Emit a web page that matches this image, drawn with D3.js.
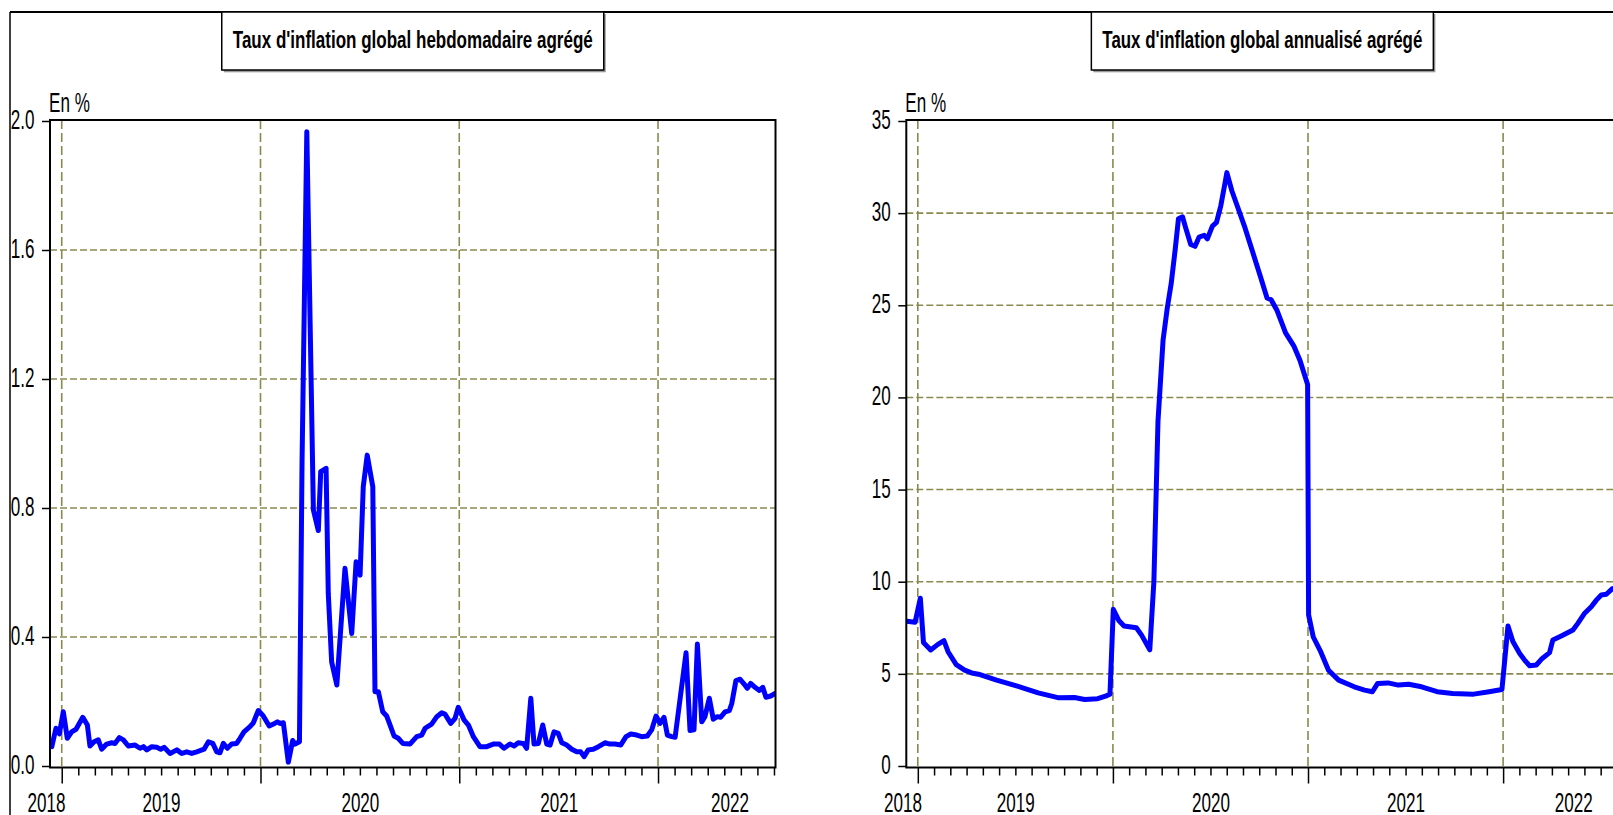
<!DOCTYPE html>
<html><head><meta charset="utf-8">
<script src="https://cdn.jsdelivr.net/npm/d3@7"></script>
<style>html,body{margin:0;padding:0;background:#fff;} svg{display:block;}</style>
</head><body><svg id="chart" width="1613" height="815"></svg>
<script>
// ---------- data ----------
const leftTitle = "Taux d'inflation global hebdomadaire agrégé";
const rightTitle = "Taux d'inflation global annualisé agrégé";
const unitLabel = "En %";
const yearLabels = ["2018", "2019", "2020", "2021", "2022"];
const yearLabelPos = [2018.921, 2019.5, 2020.5, 2021.5, 2022.36];
const majorYears = [2019, 2020, 2021, 2022];
const leftTicks = [0, 0.4, 0.8, 1.2, 1.6, 2.0];
const rightTicks = [0, 5, 10, 15, 20, 25, 30, 35];
const timeDomain = [2018.941, 2022.591];

// weekly inflation (decimal year, %)
const weeklyDates = [
  2018.950, 2018.971, 2018.988, 2019.008, 2019.028, 2019.050, 2019.072, 2019.106, 2019.129, 2019.142,
  2019.163, 2019.184, 2019.201, 2019.226, 2019.252, 2019.268, 2019.290, 2019.310, 2019.335, 2019.369,
  2019.394, 2019.411, 2019.428, 2019.453, 2019.478, 2019.498, 2019.515, 2019.545, 2019.579, 2019.604,
  2019.629, 2019.654, 2019.679, 2019.716, 2019.738, 2019.760, 2019.780, 2019.796, 2019.813, 2019.833,
  2019.855, 2019.880, 2019.897, 2019.917, 2019.947, 2019.964, 2019.989, 2020.014, 2020.044, 2020.065,
  2020.085, 2020.098, 2020.115, 2020.140, 2020.162, 2020.174, 2020.196, 2020.209, 2020.233, 2020.266,
  2020.291, 2020.303, 2020.330, 2020.341, 2020.358, 2020.384, 2020.425, 2020.459, 2020.481, 2020.501,
  2020.517, 2020.537, 2020.565, 2020.576, 2020.593, 2020.615, 2020.635, 2020.652, 2020.672, 2020.693,
  2020.716, 2020.752, 2020.786, 2020.811, 2020.828, 2020.861, 2020.887, 2020.912, 2020.928, 2020.957,
  2020.979, 2020.995, 2021.024, 2021.046, 2021.071, 2021.104, 2021.138, 2021.171, 2021.202, 2021.225,
  2021.255, 2021.276, 2021.297, 2021.322, 2021.339, 2021.360, 2021.376, 2021.398, 2021.420, 2021.440,
  2021.457, 2021.477, 2021.498, 2021.516, 2021.541, 2021.566, 2021.591, 2021.611, 2021.628, 2021.649,
  2021.674, 2021.700, 2021.733, 2021.758, 2021.784, 2021.812, 2021.839, 2021.863, 2021.893, 2021.918,
  2021.946, 2021.968, 2021.990, 2022.010, 2022.030, 2022.047, 2022.069, 2022.086, 2022.141, 2022.161,
  2022.181, 2022.198, 2022.220, 2022.236, 2022.258, 2022.278, 2022.298, 2022.315, 2022.337, 2022.359,
  2022.371, 2022.392, 2022.413, 2022.433, 2022.449, 2022.466, 2022.488, 2022.510, 2022.527, 2022.543,
  2022.567, 2022.589
];
const weeklyValues = [
  0.060, 0.117, 0.100, 0.168, 0.086, 0.106, 0.114, 0.151, 0.127, 0.062,
  0.075, 0.081, 0.052, 0.068, 0.072, 0.070, 0.088, 0.081, 0.062, 0.065,
  0.055, 0.060, 0.050, 0.060, 0.058, 0.052, 0.058, 0.039, 0.050, 0.039,
  0.044, 0.039, 0.044, 0.052, 0.075, 0.070, 0.044, 0.041, 0.070, 0.055,
  0.068, 0.070, 0.086, 0.106, 0.122, 0.134, 0.172, 0.155, 0.124, 0.130,
  0.137, 0.132, 0.134, 0.012, 0.079, 0.068, 0.075, 0.940, 1.967, 0.794,
  0.730, 0.913, 0.923, 0.535, 0.323, 0.251, 0.613, 0.411, 0.633, 0.592,
  0.866, 0.964, 0.866, 0.230, 0.230, 0.168, 0.155, 0.127, 0.093, 0.086,
  0.070, 0.068, 0.091, 0.096, 0.117, 0.130, 0.153, 0.165, 0.161, 0.132,
  0.148, 0.182, 0.143, 0.127, 0.091, 0.060, 0.060, 0.068, 0.068, 0.055,
  0.068, 0.062, 0.072, 0.070, 0.055, 0.210, 0.068, 0.070, 0.127, 0.068,
  0.065, 0.106, 0.101, 0.072, 0.065, 0.052, 0.044, 0.044, 0.029, 0.050,
  0.052, 0.060, 0.072, 0.068, 0.068, 0.065, 0.091, 0.099, 0.096, 0.091,
  0.093, 0.112, 0.155, 0.132, 0.151, 0.096, 0.091, 0.089, 0.351, 0.110,
  0.112, 0.378, 0.137, 0.153, 0.210, 0.145, 0.153, 0.151, 0.168, 0.172,
  0.194, 0.265, 0.269, 0.254, 0.241, 0.256, 0.244, 0.234, 0.244, 0.213,
  0.217, 0.225
];

// annualised inflation (decimal year, %)
const annualDates = [
  2018.944, 2018.986, 2019.013, 2019.029, 2019.066, 2019.103, 2019.134, 2019.155, 2019.197, 2019.240,
  2019.276, 2019.311, 2019.404, 2019.510, 2019.617, 2019.723, 2019.803, 2019.855, 2019.922, 2019.962,
  2019.985, 2020.002, 2020.030, 2020.057, 2020.120, 2020.147, 2020.189, 2020.210, 2020.231, 2020.257,
  2020.278, 2020.299, 2020.320, 2020.336, 2020.357, 2020.373, 2020.399, 2020.421, 2020.442, 2020.468,
  2020.484, 2020.510, 2020.531, 2020.553, 2020.574, 2020.584, 2020.610, 2020.637, 2020.674, 2020.716,
  2020.758, 2020.790, 2020.811, 2020.842, 2020.885, 2020.927, 2020.959, 2020.980, 2020.998, 2021.003,
  2021.027, 2021.065, 2021.105, 2021.157, 2021.237, 2021.290, 2021.330, 2021.357, 2021.410, 2021.463,
  2021.516, 2021.582, 2021.662, 2021.741, 2021.849, 2021.928, 2021.994, 2022.025, 2022.050, 2022.085,
  2022.110, 2022.136, 2022.170, 2022.196, 2022.238, 2022.255, 2022.298, 2022.358, 2022.383, 2022.418,
  2022.452, 2022.478, 2022.503, 2022.529, 2022.560, 2022.590
];
const annualValues = [
  7.85, 7.8, 9.1, 6.7, 6.3, 6.6, 6.8, 6.2, 5.5, 5.2,
  5.05, 4.98, 4.66, 4.33, 3.97, 3.70, 3.72, 3.61, 3.65, 3.79,
  3.90, 8.5, 7.9, 7.6, 7.5, 7.1, 6.3, 10.0, 18.7, 23.1,
  24.8, 26.2, 28.1, 29.7, 29.8, 29.2, 28.3, 28.2, 28.7, 28.8,
  28.6, 29.3, 29.5, 30.4, 31.6, 32.2, 31.2, 30.4, 29.3, 27.9,
  26.5, 25.4, 25.3, 24.7, 23.5, 22.8, 22.0, 21.3, 20.7, 8.2,
  7.0, 6.2, 5.2, 4.66, 4.30, 4.12, 4.03, 4.48, 4.51, 4.39,
  4.44, 4.30, 4.03, 3.94, 3.90, 4.03, 4.15, 7.6, 6.75, 6.1,
  5.75, 5.44, 5.48, 5.79, 6.15, 6.84, 7.05, 7.38, 7.74, 8.29,
  8.64, 9.0, 9.28, 9.32, 9.62, 9.7
];

// ---------- drawing ----------
const W = 1613, H = 815;
const FONT = "'Liberation Sans', Arial, sans-serif";
const SX = 0.61;          // horizontal compression of the labels
const GRID = "#8a8a4e";
const svg = d3.select("#chart");
svg.append("rect").attr("width", W).attr("height", H).attr("fill", "#fff");

// outer frame
svg.append("line").attr("x1", 10).attr("x2", W).attr("y1", 12).attr("y2", 12)
  .attr("stroke", "#000").attr("stroke-width", 2.2);
svg.append("line").attr("x1", 10).attr("x2", 10).attr("y1", 12).attr("y2", H)
  .attr("stroke", "#000").attr("stroke-width", 1.5);

const months = [];
majorYears.forEach(yr => { for (let m = 1; m < 12; m++) months.push(yr + m / 12); });

function drawPanel(cfg) {
  const top = 120, bottom = 767.5;
  const x = d3.scaleLinear().domain(timeDomain).range([cfg.left, cfg.right]);
  const y = d3.scaleLinear().domain([0, cfg.ymax]).range([766, 121]);
  const g = svg.append("g");
  const clipId = "clip" + cfg.id;
  g.append("clipPath").attr("id", clipId).append("rect")
    .attr("x", cfg.left).attr("y", top).attr("width", cfg.right - cfg.left).attr("height", bottom - top);

  // gridlines
  g.append("g").selectAll("line").data(cfg.ticks.filter(d => d > 0 && d < cfg.ymax)).join("line")
    .attr("x1", cfg.left).attr("x2", cfg.right).attr("y1", d => y(d)).attr("y2", d => y(d))
    .attr("stroke", GRID).attr("stroke-width", 1.6).attr("stroke-dasharray", "7,3");
  g.append("g").selectAll("line").data(majorYears).join("line")
    .attr("x1", d => x(d)).attr("x2", d => x(d)).attr("y1", top).attr("y2", bottom)
    .attr("stroke", GRID).attr("stroke-width", 1.6).attr("stroke-dasharray", "9,4");

  // series
  const pts = cfg.dates.map((t, i) => ({ t, v: cfg.values[i] }));
  g.append("path").datum(pts)
    .attr("clip-path", `url(#${clipId})`)
    .attr("fill", "none").attr("stroke", "#0000ff").attr("stroke-width", 5)
    .attr("stroke-linejoin", "round").attr("stroke-linecap", "round")
    .attr("d", d3.line().x(d => x(d.t)).y(d => y(d.v)));

  // frame
  g.append("rect").attr("x", cfg.left).attr("y", top).attr("width", cfg.right - cfg.left)
    .attr("height", bottom - top).attr("fill", "none").attr("stroke", "#000").attr("stroke-width", 2);

  // y axis
  const yg = g.append("g").attr("transform", `translate(${cfg.left},0)`)
    .call(d3.axisLeft(y).tickValues(cfg.ticks).tickSize(8).tickFormat(cfg.fmt));
  yg.select(".domain").remove();
  yg.attr("font-size", 28).attr("font-family", FONT);
  yg.selectAll(".tick line").attr("stroke", "#000").attr("stroke-width", 1.5);
  yg.selectAll(".tick text").attr("x", null).attr("dy", null).attr("fill", "#000")
    .attr("text-anchor", "end").attr("transform", `translate(-15.5,7.5) scale(${SX},1)`);

  // x axis: major + minor ticks
  const xMaj = g.append("g").attr("transform", `translate(0,${bottom})`)
    .call(d3.axisBottom(x).tickValues(majorYears).tickSize(16).tickFormat(""));
  const xMin = g.append("g").attr("transform", `translate(0,${bottom})`)
    .call(d3.axisBottom(x).tickValues(months.filter(m => m < timeDomain[1])).tickSize(8).tickFormat(""));
  [xMaj, xMin].forEach(a => {
    a.select(".domain").remove();
    a.selectAll(".tick line").attr("stroke", "#000").attr("stroke-width", 1.5);
  });
  const xLab = g.append("g").attr("transform", `translate(0,${bottom})`)
    .call(d3.axisBottom(x).tickValues(yearLabelPos).tickSize(0).tickFormat((d, i) => yearLabels[i]));
  xLab.select(".domain").remove();
  xLab.attr("font-size", 28).attr("font-family", FONT);
  xLab.selectAll(".tick text").attr("y", null).attr("dy", null).attr("fill", "#000")
    .attr("text-anchor", "middle").attr("transform", `translate(0,44) scale(${SX},1)`);

  // unit label
  g.append("text").attr("transform", `translate(${cfg.left - 1},111.7) scale(${SX},1)`)
    .attr("font-family", FONT).attr("font-size", 28).attr("fill", "#000").text(unitLabel);

  // title box
  const cx = (cfg.left + cfg.right) / 2;
  const pad = 11;
  const bx = cx - cfg.titleW / 2 - pad, bw = cfg.titleW + 2 * pad;
  g.append("rect").attr("x", bx + 2).attr("y", 14).attr("width", bw).attr("height", 58.3)
    .attr("fill", "#9a9a9a");
  g.append("rect").attr("x", bx).attr("y", 12).attr("width", bw).attr("height", 58)
    .attr("fill", "#fff").attr("stroke", "#000").attr("stroke-width", 1.5);
  g.append("text").attr("x", cx).attr("y", 48.3).attr("text-anchor", "middle")
    .attr("font-family", FONT).attr("font-weight", "bold").attr("font-size", 23)
    .attr("textLength", cfg.titleW).attr("lengthAdjust", "spacingAndGlyphs")
    .attr("fill", "#000").text(cfg.title);
}

drawPanel({
  id: "L", left: 50, right: 775.5, ymax: 2.0, ticks: leftTicks, fmt: d3.format(".1f"),
  dates: weeklyDates, values: weeklyValues, title: leftTitle, titleW: 360
});
drawPanel({
  id: "R", left: 906.3, right: 906.3 + (timeDomain[1] - timeDomain[0]) * 195.1, ymax: 35,
  ticks: rightTicks, fmt: d3.format("d"),
  dates: annualDates, values: annualValues, title: rightTitle, titleW: 320
});
</script>
</body></html>
